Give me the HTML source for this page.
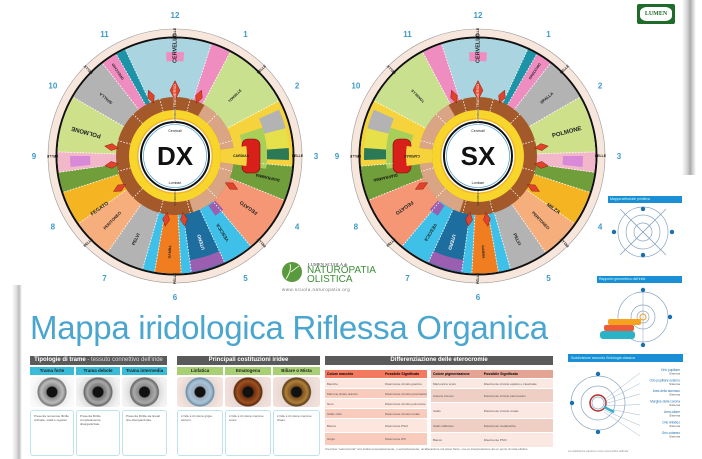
<!DOCTYPE html>
<html><head><meta charset="utf-8">
<style>
html,body{margin:0;padding:0;background:#fff;}
body{width:702px;height:459px;position:relative;overflow:hidden;font-family:"Liberation Sans",sans-serif;}
.a{position:absolute;}
.hd{background:#5a5a5a;color:#fff;font-size:6px;font-weight:bold;text-align:center;line-height:9px;}
.sh{background:#38bcd8;color:#222;font-size:4.5px;font-weight:bold;text-align:center;line-height:8px;}
.sg{background:#a9cf74;color:#222;font-size:4.5px;font-weight:bold;text-align:center;line-height:8px;}
.tx{border:1px solid #bfe3ea;border-radius:3px;font-size:3px;color:#555;padding:3px;box-sizing:border-box;line-height:4px;}
.eye{border-radius:3px;}
</style></head><body>
<div class="a" style="left:0;top:285px;width:22px;height:174px;background:linear-gradient(90deg,#fff 0,#fff 12px,#d8d8d8 17px,#bbb 19px,#fff 22px);"></div>
<div class="a" style="left:682px;top:0;width:20px;height:175px;background:linear-gradient(90deg,#fff 0,#ccc 6px,#aaa 8px,#fff 14px);"></div>
<svg id="s" class="a" style="left:0;top:0" width="702" height="459" xmlns="http://www.w3.org/2000/svg" font-family="Liberation Sans, sans-serif"></svg>

<div class="a" style="left:30px;top:308px;font-size:33px;color:#4aa6cf;letter-spacing:-0.3px;line-height:40px;white-space:nowrap;">Mappa iridologica Riflessa Organica</div>

<div class="a hd" style="left:30px;top:356px;width:137px;">Tipologie di trame <span style="font-weight:normal;color:#ddd">- tessuto connettivo dell'iride</span></div>
<div class="a sh" style="left:30px;top:367px;width:44px;">Trama forte</div>
<div class="a sh" style="left:76px;top:367px;width:44px;">Trama debole</div>
<div class="a sh" style="left:122px;top:367px;width:45px;">Trama intermedia</div>
<div class="a eye" style="left:30px;top:377px;width:44px;height:30px;background:radial-gradient(circle at 50% 50%,#111 0,#111 5px,#888 6px,#bbb 11px,#777 14px,#eee 15px,#fafafa 22px);"></div>
<div class="a eye" style="left:76px;top:377px;width:44px;height:30px;background:radial-gradient(circle at 50% 50%,#111 0,#111 5px,#777 6px,#aaa 11px,#666 14px,#ddd 15px,#f3f3f3 22px);"></div>
<div class="a eye" style="left:122px;top:377px;width:45px;height:30px;background:radial-gradient(circle at 50% 50%,#111 0,#111 5px,#888 6px,#aaa 11px,#666 14px,#ddd 15px,#f3f3f3 22px);"></div>
<div class="a tx" style="left:30px;top:410px;width:44px;height:46px;">Presenta numerose fibrille ordinate, sottili e regolari.</div>
<div class="a tx" style="left:76px;top:410px;width:44px;height:46px;">Presenta fibrille completamente disorganizzate.</div>
<div class="a tx" style="left:122px;top:410px;width:45px;height:46px;">Presenta fibrille sia lineari che disorganizzate.</div>

<div class="a hd" style="left:177px;top:356px;width:143px;">Principali costituzioni iridee</div>
<div class="a sg" style="left:177px;top:367px;width:46px;">Linfatica</div>
<div class="a sg" style="left:225px;top:367px;width:46px;">Ematogena</div>
<div class="a sg" style="left:273px;top:367px;width:47px;">Biliare o Mista</div>
<div class="a eye" style="left:177px;top:377px;width:46px;height:30px;background:radial-gradient(circle at 50% 50%,#111 0,#111 5px,#9ab 6px,#a8c4d8 11px,#6f8ea6 14px,#e8d8d4 15px,#f4e4e0 23px);"></div>
<div class="a eye" style="left:225px;top:377px;width:46px;height:30px;background:radial-gradient(circle at 50% 50%,#111 0,#111 5px,#6a3010 6px,#a0501e 11px,#5a2a10 14px,#e8d8d4 15px,#f1e0da 23px);"></div>
<div class="a eye" style="left:273px;top:377px;width:47px;height:30px;background:radial-gradient(circle at 50% 50%,#111 0,#111 5px,#7a5020 6px,#b08038 11px,#5a3a18 14px,#e8d8d4 15px,#f1e0da 23px);"></div>
<div class="a tx" style="left:177px;top:410px;width:46px;height:46px;">L'iride è di colore grigio-azzurro.</div>
<div class="a tx" style="left:225px;top:410px;width:46px;height:46px;">L'iride è di colore marrone scuro.</div>
<div class="a tx" style="left:273px;top:410px;width:47px;height:46px;">L'iride è di colore marrone chiaro.</div>

<div class="a hd" style="left:325px;top:356px;width:228px;">Differenziazione delle eterocromie</div>
<div id="t1" class="a" style="left:325px;top:370px;width:102px;"></div>
<div id="t2" class="a" style="left:431px;top:370px;width:122px;"></div>
<div class="a" style="left:325px;top:447px;width:228px;font-size:3px;color:#666;line-height:4px;">Il termine "eterocromia" non indica necessariamente, o esclusivamente, un'alterazione sul piano fisico, ma un interpretazione da un punto di vista olistico.</div>

<div class="a" style="left:608px;top:196px;width:72px;height:7px;background:#1a8fd6;color:#cfe;font-size:3.5px;line-height:7px;padding-left:2px;">Mappa settoriale primitiva</div>
<div class="a" style="left:597px;top:276px;width:83px;height:7px;background:#1a8fd6;color:#cfe;font-size:3.5px;line-height:7px;padding-left:2px;">Rapporto geometrico dell'iride</div>
<div class="a" style="left:568px;top:354px;width:112px;height:8px;background:#1a8fd6;color:#cfe;font-size:3.5px;line-height:8px;padding-left:3px;">Suddivisione secondo l'iridologia classica</div>

<div class="a" style="left:637px;top:4px;width:38px;height:20px;background:#1e6b2a;border-radius:2px;"></div>
<div class="a" style="left:640px;top:7px;width:32px;height:14px;background:#fff;border-radius:7px/5px;color:#1e6b2a;font-family:'Liberation Serif',serif;font-size:6px;font-weight:bold;text-align:center;line-height:15px;">LUMEN</div>

<div class="a" style="left:308px;top:262px;font-family:'Liberation Serif',serif;font-size:4.5px;color:#333;">LUMEN SCUOLA di</div>
<div class="a" style="left:307px;top:266px;font-size:10px;color:#3f8f3a;line-height:9px;">NATUROPATIA<br>OLISTICA</div>
<div class="a" style="left:282px;top:287px;font-size:4.5px;color:#777;letter-spacing:0.5px;">www.scuola.naturopatia.org</div>

<script>
var S=document.getElementById('s'),NS='http://www.w3.org/2000/svg';
function el(t,a,txt){var e=document.createElementNS(NS,t);for(var k in a)e.setAttribute(k,a[k]);if(txt!==undefined)e.textContent=txt;S.appendChild(e);return e;}
function P(cx,cy,r,a){a=a*Math.PI/180;return [cx+r*Math.sin(a),cy-r*Math.cos(a)];}
function wedge(cx,cy,r1,r2,a1,a2,f,st){var p1=P(cx,cy,r2,a1),p2=P(cx,cy,r2,a2),p3=P(cx,cy,r1,a2),p4=P(cx,cy,r1,a1),lg=(a2-a1)>180?1:0;
 el('path',{d:'M'+p1+' A'+r2+' '+r2+' 0 '+lg+' 1 '+p2+' L'+p3+' A'+r1+' '+r1+' 0 '+lg+' 0 '+p4+' Z',fill:f,stroke:st||'none','stroke-width':0.5});}
function dash(cx,cy,r1,r2,a){var p=P(cx,cy,r1,a),q=P(cx,cy,r2,a);el('line',{x1:p[0],y1:p[1],x2:q[0],y2:q[1],stroke:'#fff','stroke-width':0.8,'stroke-dasharray':'1.5 1.5'});}
function lab(cx,cy,r,a,txt,sz,col,w){var p=P(cx,cy,r,a);var rot=a;if(a>90&&a<270)rot=a-180; rot=rot-90;
 el('text',{x:p[0],y:p[1],'font-size':sz,fill:col||'#222','font-weight':w||'bold','text-anchor':'middle','dominant-baseline':'middle',transform:'rotate('+rot+' '+p[0]+' '+p[1]+')'},txt);}
function diamond(cx,cy,r,a,s){var o=P(cx,cy,r+s*2.2,a),i=P(cx,cy,r-s*0.6,a);
 var L=P(0,0,s*0.7,a-90),R=P(0,0,s*0.7,a+90),m=P(cx,cy,r+s*0.8,a);
 el('path',{d:'M'+i+' L'+(m[0]+L[0])+','+(m[1]+L[1])+' L'+o+' L'+(m[0]+R[0])+','+(m[1]+R[1])+' Z',fill:'#e0432a',stroke:'#8a1f10','stroke-width':0.5});}

function iris(cx,cy,mir,name){
 var sec=[[-25,18,'#a9d4e0'],[18,28,'#ef8cc0'],[28,62,'#c9e08f'],[62,95,'#f6d33d'],[95,112,'#6f9e3a'],[112,140,'#f59775'],[140,155,'#3ec0e8'],[155,172,'#1d6d9e'],[172,177,'#3ec0e8'],[177,190,'#f07d1f'],[190,196,'#3ec0e8'],[196,215,'#b3b3b3'],[215,235,'#f6ae7c'],[235,252,'#f5b422'],[252,262,'#6f9e3a'],[262,272,'#f2b7c8'],[272,300,'#cfe08a'],[300,322,'#b3b3b3'],[322,330,'#ef8cc0'],[330,335,'#1d93a8']];
 function A(a){return mir?-a:a;}
 function W(r1,r2,x,y,c){var a1=A(x),a2=A(y);if(a1>a2){var t=a1;a1=a2;a2=t;}wedge(cx,cy,r1,r2,a1,a2,c);}
 el('circle',{cx:cx,cy:cy,r:127,fill:'#f7e6dc',stroke:'#999','stroke-width':0.6});
 el('circle',{cx:cx,cy:cy,r:118.5,fill:'#fff',stroke:'#111','stroke-width':2});
 sec.forEach(function(s){W(58,117.5,s[0],s[1],s[2]);});
 [[66,76,'#b3b3b3'],[76,86,'#e6e04a'],[86,92,'#2c7a55']].forEach(function(s){W(92,114,s[0],s[1],s[2]);});
 W(68,92,72,98,'#a8cf5a');
 W(105,117,155,172,'#9a5fb0');
 W(60,72,138,146,'#9a5fb0');
 W(95,104,-5,5,'#ef8cc0');
 W(85,105,264,270,'#d88ad8');
 sec.forEach(function(s){dash(cx,cy,58,117,A(s[0]));});
 var h=P(cx,cy,76,A(90));el('rect',{x:h[0]-9,y:h[1]-17,width:18,height:34,rx:6,fill:'#d8201a',stroke:'#7a0a0a','stroke-width':0.6});
 el('circle',{cx:cx,cy:cy,r:59,fill:'#a3592a'});
 W(46,59,30,82,'#d9a585');
 W(46,59,98,162,'#d9a585');
 W(46,72,82,98,'#f6d33d');
 for(var k=0;k<360;k+=30)dash(cx,cy,46,59,k+15);
 el('circle',{cx:cx,cy:cy,r:46,fill:'#f8d52a'});
 el('circle',{cx:cx,cy:cy,r:38,fill:'#f2b62a'});
 el('circle',{cx:cx,cy:cy,r:36.5,fill:'#fff'});
 el('circle',{cx:cx,cy:cy,r:34,fill:'#fff',stroke:'#111','stroke-width':2});
 el('circle',{cx:cx,cy:cy,r:31.5,fill:'none',stroke:'#2a8fd0','stroke-width':0.6});
 el('text',{x:cx,y:cy+9,'font-size':26,'font-weight':'bold','text-anchor':'middle',fill:'#111'},name);
 el('text',{x:cx,y:cy-24,'font-size':3.5,'text-anchor':'middle',fill:'#222'},'Cervicali');
 el('text',{x:cx,y:cy+28,'font-size':3.5,'text-anchor':'middle',fill:'#222'},'Lombari');
 [0,-22,22,240,262,278,172,188,118].forEach(function(a){diamond(cx,cy,60,A(a),a==0?7:5);});
 lab(cx,cy,108,A(0),'CERVELLO',5.5,'#222');
 lab(cx,cy,53,A(0),'COLON TRASVERSO',3.8,'#fff','normal');
 lab(cx,cy,42,A(0),'STOMACO',3,'#333','normal');
 lab(cx,cy,42,A(180),'STOMACO',3,'#333','normal');
 lab(cx,cy,92,A(285),'POLMONE',6,'#222');
 lab(cx,cy,90,A(125),'FEGATO',5,'#222');
 lab(cx,cy,92,A(235),mir?'MILZA':'FEGATO',5,'#222');
 lab(cx,cy,90,A(148),'VESCICA',4.5,'#222');
 lab(cx,cy,90,A(163),'UTERO',4.5,'#fff');
 lab(cx,cy,92,A(205),'PELVI',4.5,'#222');
 lab(cx,cy,90,A(224),'PERITONEO',4,'#222');
 lab(cx,cy,95,A(103),'DIAFRAMMA',4,'#111');
 lab(cx,cy,90,A(310),'SPALLA',4,'#222');
 lab(cx,cy,102,A(326),'ORECCHIO',3.5,'#222');
 lab(cx,cy,85,A(45),'TONSILLE',3.5,'#222');
 lab(cx,cy,66,A(90),'CARDIAS',3.5,'#222');
 lab(cx,cy,96,A(183),'GAMBA',3.5,'#222');
 [0,45,90,135,180,225,270,315].forEach(function(a){lab(cx,cy,122.5,a,'PELLE',3.5,'#222');});
 for(var i=0;i<12;i++){var p=P(cx,cy,141,i*30);el('text',{x:p[0],y:p[1]+3,'font-size':8,'font-weight':'bold','text-anchor':'middle',fill:'#3d9ac8'},i==0?12:i);}
}
iris(175,156,false,'DX');
iris(478,156,true,'SX');

el('circle',{cx:292,cy:272,r:10,fill:'#5a9a3e'});
el('path',{d:'M286 279 Q292 270 290 264 M291 272 Q296 268 299 266',stroke:'#e8f4d8','stroke-width':1,fill:'none'});

var g='#8aa5c0';
[25,17,9].forEach(function(r){el('circle',{cx:643,cy:232,r:r,fill:'none',stroke:g,'stroke-width':0.7});});
el('line',{x1:620,y1:209,x2:666,y2:255,stroke:g,'stroke-width':0.8});el('line',{x1:666,y1:209,x2:620,y2:255,stroke:g,'stroke-width':0.8});
[[643,209],[643,255],[614,232],[672,232]].forEach(function(p){el('circle',{cx:p[0],cy:p[1],r:2.2,fill:'#1a6fb0'});});
[25,12,6].forEach(function(r){el('circle',{cx:643,cy:317,r:r,fill:'none',stroke:g,'stroke-width':0.7});});
el('circle',{cx:643,cy:317,r:3,fill:'none',stroke:'#f0a020','stroke-width':1});
el('line',{x1:643,y1:288,x2:643,y2:346,stroke:g,'stroke-width':0.5});
[[643,290],[643,345],[670,317]].forEach(function(p){el('circle',{cx:p[0],cy:p[1],r:2.2,fill:'#1a6fb0'});});
el('rect',{x:608,y:319,width:33,height:6,rx:2,fill:'#f6a21e'});
el('rect',{x:604,y:325,width:30,height:6,rx:2,fill:'#ec5a3a'});
el('rect',{x:600,y:331,width:35,height:8,rx:3,fill:'#2ab3c6'});
[27,17,8,6].forEach(function(r,i){el('circle',{cx:598,cy:403,r:r,fill:'none',stroke:i==2?'#b03030':g,'stroke-width':i==2?1.5:0.7});});
el('line',{x1:604,y1:407,x2:614,y2:412,stroke:'#2ab3c6','stroke-width':2.5});
[[598,374],[598,432],[572,403]].forEach(function(p){el('circle',{cx:p[0],cy:p[1],r:2.2,fill:'#1a6fb0'});});
var labs=['Orlo pupillare','Orlo pupillare esterno','Area dello stomaco','Margine della corona','Area ciliare','Orlo linfatico','Orlo cutaneo'];
labs.forEach(function(s,i){var y=371+i*10.5;el('text',{x:680,y:y,'font-size':3.2,'text-anchor':'end',fill:'#1a6fb0'},s);el('text',{x:680,y:y+3.5,'font-size':3,'text-anchor':'end',fill:'#555'},'Sistema');el('line',{x1:604,y1:400+i*2,x2:640,y2:y+2,stroke:g,'stroke-width':0.4});});
el('text',{x:568,y:452,'font-size':2.5,fill:'#888'},'La suddivisione classica in zone concentriche dell\'iride');

function tbl(id,h1,h2,rows,hc,c1,c2,w1){var d=document.getElementById(id),hh='<div style="display:flex;background:'+hc+';font-size:3.5px;font-weight:bold;height:8px;line-height:8px;margin-bottom:1px"><div style="width:'+w1+'%;padding-left:2px">'+h1+'</div><div style="padding-left:2px">'+h2+'</div></div>';
 rows.forEach(function(r,i){hh+='<div style="display:flex;background:'+(i%2?c2:c1)+';font-size:3px;color:#555;height:'+r[2]+'px;align-items:center;margin-bottom:1px"><div style="width:'+w1+'%;padding-left:2px">'+r[0]+'</div><div style="padding-left:2px">'+r[1]+'</div></div>';});d.innerHTML=hh;}
tbl('t1','Colore macchia','Possibile Significato',[['Bianche','Disarmonie circuito gastrico',9],['Marrone chiaro arancio','Disarmonie circuito pancreatico',9],['Nero','Disarmonie circuito polmonare',9],['Giallo zolfo','Disarmonie circuito renale',9],['Bianco','Disarmonie PSCI',13],['Grigio','Disarmonie IPC',12]],'#f37a61','#fde6dd','#f8cbbd',55);
tbl('t2','Colore pigmentazione','Possibile Significato',[['Marroncino scuro','Disarmonie circuito epatico e intestinale',9],['Arancio intenso','Disarmonie circuito pancreatico',13],['Giallo','Disarmonie circuito renale',15],['Giallo zafferano','Disarmonie metaboliche',13],['Bianco','Disarmonie PSCI',14]],'#e4a493','#fbe8e2','#efcfc4',40);
</script>
</body></html>
